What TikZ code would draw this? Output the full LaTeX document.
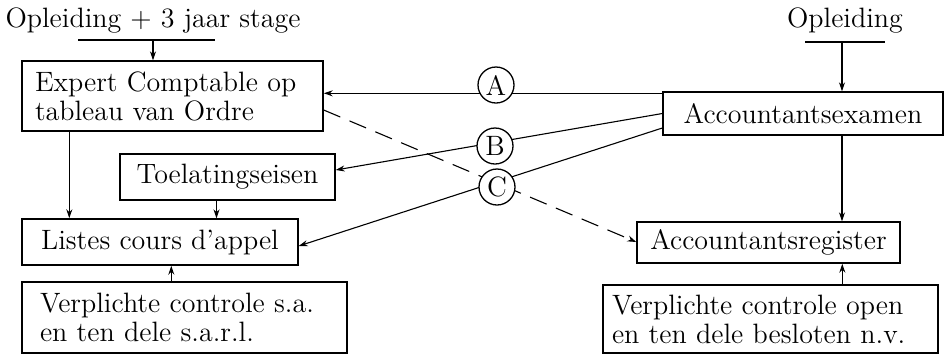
\documentclass[tikz,border=0pt]{standalone}
\usetikzlibrary{calc,arrows.meta}
\begin{document}
\begin{tikzpicture}[x=0.5pt,y=-0.5pt,
  every node/.style={font=\fontsize{14}{14.5}\selectfont},
  box/.style={draw, line width=0.7pt, inner sep=0pt, align=center},
  lbox/.style={draw, line width=0.7pt, inner ysep=0pt, align=left},
  arr/.style={-{Stealth[length=4.5pt,width=3pt]}, line width=0.55pt},
  ln/.style={line width=0.55pt},
  dsh/.style={-{Stealth[length=4.5pt,width=3pt]}, line width=0.55pt, dash pattern=on 9pt off 5pt},
  circ/.style={circle, draw, fill=white, line width=0.65pt, minimum size=18pt, inner sep=0pt}]
\fill[white] (0,0) rectangle (949,355);
\useasboundingbox (0,0) rectangle (949,355);

% top texts
\node[anchor=base] (t1) at (153,27) {Opleiding + 3 jaar stage};
\node[anchor=base] (t2) at (845,27) {Opleiding};
\coordinate (b1l) at (78,40);
\coordinate (b1r) at (215,40);
\coordinate (b1m) at (153,40);
\coordinate (b2l) at (805,42);
\coordinate (b2r) at (885,42);
\coordinate (b2m) at (842,42);

% boxes
\node[lbox, inner xsep=6.5pt, text width=137.5pt, minimum height=35pt] (expert) at (172.5,96)
  {Expert Comptable op\\tableau van Ordre};
\node[box, minimum width=107.5pt, minimum height=23pt] (toel) at (227.5,177) {Toelatingseisen};
\node[box, minimum width=138pt, minimum height=23pt] (listes) at (160,242) {Listes cours d'appel};
\node[lbox, inner xsep=9pt, text width=144.5pt, minimum height=35.5pt] (vl) at (184.5,317.5)
  {Verplichte controle s.a.\\en ten dele s.a.r.l.};
\node[box, minimum width=140pt, minimum height=21.5pt] (exam) at (803,113.5) {Accountantsexamen};
\node[box, minimum width=131.5pt, minimum height=20.5pt] (reg) at (768.5,242.5) {Accountantsregister};
\node[lbox, inner xsep=4.5pt, text width=158.5pt, minimum height=34pt] (vr) at (770.5,319)
  {Verplichte controle open\\en ten dele besloten n.v.};

% bars and vertical arrows
\draw[ln] (b1l) -- (b1r);
\draw[ln] (b2l) -- (b2r);
\draw[arr] (b1m) -- (b1m |- expert.north);
\draw[arr] (b2m) -- (b2m |- exam.north);
\draw[arr] ($(expert.south west)+(48,0)$) coordinate (e1) -- (e1 |- listes.north);
\draw[arr] ($(toel.south)+(-11,0)$) coordinate (t3) -- (t3 |- listes.north);
\draw[arr] ($(vl.north west)+(150,0)$) coordinate (v1) -- (v1 |- listes.south);
\draw[arr] (b2m |- exam.south) -- (b2m |- reg.north);
\draw[arr] ($(vr.north west)+(240,0)$) coordinate (v2) -- (v2 |- reg.south);

% diagonal connectors
\draw[arr] ($(exam.north west)+(0,2)$) coordinate (a1) -- (a1 -| expert.east);
\draw[arr] (exam.west) -- ($(toel.east)+(0,-7)$);
\draw[arr] ($(exam.west)+(0,14.5)$) -- ($(listes.east)+(0,4)$);
\draw[dsh] ($(expert.east)+(0,14)$) -- ($(reg.west)+(0,-0.5)$);

% circles
\node[circ] (cA) at (496,85) {A};
\node[circ] (cB) at (495,146) {B};
\node[circ] (cC) at (497,187) {C};
\end{tikzpicture}
\end{document}
